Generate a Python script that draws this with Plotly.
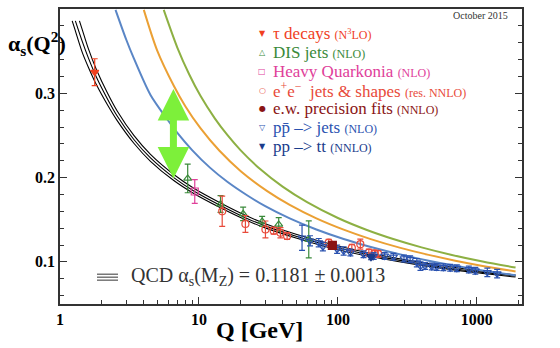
import math
import plotly.graph_objects as go

# ---------------- data ----------------
# QCD band: central, upper, lower (alpha_s vs Q in GeV)
q_central = [1.29, 1.45, 1.6, 1.83, 2.2, 2.58, 3.4, 4.48, 6.59, 9.18, 14.3, 22.2, 30, 50, 91.2, 171, 400, 1000, 1900]
a_central = [0.386, 0.361, 0.342, 0.319, 0.293, 0.273, 0.2452, 0.2233, 0.200, 0.1841, 0.1669, 0.1515, 0.1427, 0.1304, 0.1183, 0.1083, 0.0975, 0.0884, 0.0832]
q_upper = [1.38, 1.45, 1.6, 1.83, 2.2, 2.58, 3.4, 4.48, 6.59, 9.18, 14.3, 22.2, 30, 50, 91.2, 171, 400, 1000, 1900]
a_upper = [0.386, 0.375, 0.353, 0.328, 0.300, 0.279, 0.250, 0.2275, 0.2037, 0.1874, 0.1699, 0.1543, 0.1453, 0.1328, 0.1207, 0.1103, 0.0992, 0.0898, 0.0844]
q_lower = [1.224, 1.29, 1.45, 1.6, 1.83, 2.2, 2.58, 3.4, 4.48, 6.59, 9.18, 14.3, 22.2, 30, 50, 91.2, 171, 400, 1000, 1900]
a_lower = [0.386, 0.374, 0.348, 0.331, 0.310, 0.286, 0.2675, 0.2407, 0.2193, 0.1965, 0.1811, 0.1641, 0.149, 0.1403, 0.1282, 0.1159, 0.1063, 0.0958, 0.0870, 0.0820]

# coloured curves
q_blue = [2.51, 3.0, 3.4, 4.48, 6.0, 6.97, 8.93, 12, 16, 22.2, 30, 45, 70, 110, 170, 282, 450, 700, 1100, 1900]
a_blue = [0.399, 0.3635, 0.3414, 0.298, 0.2677, 0.2533, 0.2326, 0.2118, 0.195, 0.179, 0.1661, 0.1516, 0.1384, 0.1271, 0.1179, 0.1087, 0.1014, 0.0953, 0.0898, 0.0840]
q_orange = [4.01, 5.0, 6.59, 8.0, 10.25, 14, 20, 31, 45, 70, 110, 170, 282, 450, 700, 1100, 1900]
a_orange = [0.399, 0.351, 0.309, 0.2844, 0.2586, 0.2321, 0.2076, 0.1839, 0.1676, 0.1516, 0.1382, 0.1273, 0.1166, 0.1083, 0.1014, 0.0952, 0.0886]
q_green = [5.58, 7.0, 8.5, 10.25, 13, 16, 19.9, 27.7, 40, 60, 100, 160, 250, 400, 650, 1100, 1900]
a_green = [0.399, 0.354, 0.3226, 0.297, 0.2703, 0.2506, 0.2326, 0.2098, 0.1892, 0.1708, 0.152, 0.1381, 0.1271, 0.1172, 0.1085, 0.1004, 0.0932]

# measurements
q_tau = [1.777]; a_tau = [0.325]; e_tau = [0.016]
q_dis = [8.3, 14.3, 20.8, 28.5, 37.5, 61.7]
a_dis = [0.199, 0.1686, 0.157, 0.148, 0.1444, 0.1267]
e_dis = [0.017, 0.010, 0.008, 0.006, 0.008, 0.022]
q_hq = [9.33]; a_hq = [0.1835]; e_hq = [0.014]
q_ee = [14.7, 21.6, 30.1, 34.5, 38.6, 43.1, 85.9, 126, 145, 167, 183, 195]
a_ee = [0.160, 0.145, 0.1385, 0.137, 0.1345, 0.1306, 0.1227, 0.1167, 0.121, 0.111, 0.110, 0.1095]
e_ee = [0.018, 0.010, 0.010, 0.004, 0.006, 0.004, 0.004, 0.004, 0.006, 0.004, 0.004, 0.004]
q_ew = [91.2]; a_ew = [0.1196]; e_ew = [0.003]
q_ppj = [55.2, 63, 72.8, 78, 98.7, 110, 123, 153, 181, 217, 251, 299, 331, 370, 393, 424, 474, 515, 574, 643, 718, 876, 975, 1190, 1400]
a_ppj = [0.1286, 0.125, 0.1227, 0.118, 0.115, 0.1129, 0.111, 0.109, 0.107, 0.107, 0.106, 0.104, 0.103, 0.099, 0.095, 0.095, 0.0945, 0.094, 0.0935, 0.093, 0.0925, 0.091, 0.0895, 0.0875, 0.086]
e_ppj = [0.015, 0.006, 0.005, 0.005, 0.005, 0.005, 0.004, 0.004, 0.004, 0.004, 0.004, 0.004, 0.004, 0.005, 0.005, 0.004, 0.004, 0.004, 0.004, 0.004, 0.004, 0.004, 0.004, 0.005, 0.005]
q_tt = [173]; a_tt = [0.1055]; e_tt = [0.003]

arrow_q = 6.55; arrow_lo = 0.199; arrow_hi = 0.307

x_tickvals = [1, 10, 100, 1000]
x_ticktext = ["1", "10", "100", "1000"]
y_tickvals = [0.1, 0.2, 0.3]
y_ticktext = ["0.1", "0.2", "0.3"]

legend_items = [
    ("▼", "#f0401e", "τ decays", "(N<sup>3</sup>LO)"),
    ("△", "#3a8a3a", "DIS jets", "(NLO)"),
    ("□", "#e0409a", "Heavy Quarkonia", "(NLO)"),
    ("○", "#e84a3a", "e<sup>+</sup>e<sup>−</sup>  jets & shapes", "(res. NNLO)"),
    ("●", "#8a1414", "e.w. precision fits", "(NNLO)"),
    ("▽", "#2a52b0", "pp̄ –> jets", "(NLO)"),
    ("▼", "#1a3c8c", "pp –> tt", "(NNLO)"),
]

# ---------------- figure ----------------
W, H = 560, 348
L, R, T, B = 60, 38, 7, 44
PW, PH = W - L - R, H - T - B
def px(x): return (x - L) / PW
def py(y): return (H - B - y) / PH

SERIF = "Liberation Serif"
fig = go.Figure()

for q, a in [(q_lower, a_lower), (q_central, a_central), (q_upper, a_upper)]:
    fig.add_trace(go.Scatter(x=q, y=a, mode="lines", line=dict(color="black", width=1.1, shape="spline", smoothing=0.8),
                             hoverinfo="skip", showlegend=False))
for q, a, c in [(q_blue, a_blue, "#5a86c6"), (q_orange, a_orange, "#eba034"), (q_green, a_green, "#8db043")]:
    fig.add_trace(go.Scatter(x=q, y=a, mode="lines", line=dict(color=c, width=2, shape="spline", smoothing=0.8),
                             hoverinfo="skip", showlegend=False))

def pts(q, a, e, color, symbol, size):
    fig.add_trace(go.Scatter(x=q, y=a, mode="markers",
                             marker=dict(symbol=symbol, size=size, color=color,
                                         line=dict(color=color, width=1.2)),
                             error_y=dict(type="data", array=e, color=color, thickness=1.2, width=3),
                             hoverinfo="skip", showlegend=False))

pts(q_dis, a_dis, e_dis, "#3a8a3a", "triangle-up-open", 7)
pts(q_hq, a_hq, e_hq, "#e0409a", "square-open", 7)
pts(q_ee, a_ee, e_ee, "#e84a3a", "circle-open", 7)
pts(q_ppj, a_ppj, e_ppj, "#2a52b0", "triangle-down-open", 7)
pts(q_tt, a_tt, e_tt, "#1a3c8c", "triangle-down", 7)
pts(q_ew, a_ew, e_ew, "#8a1414", "square", 8)
pts(q_tau, a_tau, e_tau, "#f0401e", "triangle-down", 7)

fig.add_annotation(x=math.log10(arrow_q), y=arrow_lo, ax=math.log10(arrow_q), ay=arrow_hi,
                   xref="x", yref="y", axref="x", ayref="y", text="", showarrow=True,
                   arrowhead=2, arrowside="end+start", arrowsize=0.9, arrowwidth=7, arrowcolor="#7df03a")

# legend text
y0 = 32
for i, (sym, col, main, small) in enumerate(legend_items):
    yy = y0 + i * 18.9
    fig.add_annotation(x=px(262), y=py(yy), xref="paper", yref="paper", text=sym, showarrow=False,
                       font=dict(family="DejaVu Sans", size=8, color=col), xanchor="center", yanchor="middle")
    fig.add_annotation(x=px(271), y=py(yy), xref="paper", yref="paper",
                       text=f"{main} <span style='font-size:12px'>{small}</span>", showarrow=False,
                       font=dict(family=SERIF, size=17, color=col), xanchor="left", yanchor="middle")

fig.add_annotation(x=px(510), y=py(14), xref="paper", yref="paper", text="October 2015", showarrow=False,
                   font=dict(family=SERIF, size=10, color="#333"), xanchor="right", yanchor="middle")

# QCD label with triple-line symbol
for dy in (-3, 0, 3):
    fig.add_shape(type="line", xref="paper", yref="paper", x0=px(97), x1=px(118), y0=py(277 + dy), y1=py(277 + dy),
                  line=dict(color="#555", width=1.2))
fig.add_annotation(x=px(129), y=py(276), xref="paper", yref="paper",
                   text="QCD α<sub>s</sub>(M<sub>Z</sub>) = 0.1181 ± 0.0013", showarrow=False,
                   font=dict(family=SERIF, size=20, color="#333"), xanchor="left", yanchor="middle")

# axis titles
fig.add_annotation(x=px(6), y=py(42), xref="paper", yref="paper", text="<b>α<sub>s</sub>(Q<sup>2</sup>)</b>",
                   showarrow=False, font=dict(family=SERIF, size=22, color="black"), xanchor="left", yanchor="middle")
fig.add_annotation(x=px(259), y=py(330), xref="paper", yref="paper", text="<b>Q [GeV]</b>",
                   showarrow=False, font=dict(family=SERIF, size=24, color="black"), xanchor="center", yanchor="middle")

minor_x = [m * d for d in (1, 10, 100, 1000) for m in range(2, 10) if m * d < 2200]
fig.update_xaxes(type="log", range=[0, 3.325], showgrid=False, zeroline=False,
                 showline=True, linecolor="#333", linewidth=1.5, mirror=True,
                 ticks="inside", ticklen=7, tickcolor="#333", tickvals=x_tickvals, ticktext=x_ticktext,
                 tickfont=dict(family=SERIF, size=16, color="black", weight="bold"),
                 minor=dict(tickvals=minor_x, ticks="inside", ticklen=4, tickcolor="#333"))
fig.update_yaxes(range=[0.05, 0.4], showgrid=False, zeroline=False,
                 showline=True, linecolor="#333", linewidth=1.5, mirror="ticks",
                 ticks="inside", ticklen=7, tickcolor="#333", tickvals=y_tickvals, ticktext=y_ticktext,
                 tickfont=dict(family=SERIF, size=16, color="black", weight="bold"),
                 minor=dict(dtick=0.02, tick0=0, ticks="inside", ticklen=4, tickcolor="#333"))
fig.update_layout(width=W, height=H, margin=dict(l=L, r=R, t=T, b=B),
                  plot_bgcolor="white", paper_bgcolor="white", showlegend=False,
                  font=dict(family=SERIF))
fig.write_html("out.html")
